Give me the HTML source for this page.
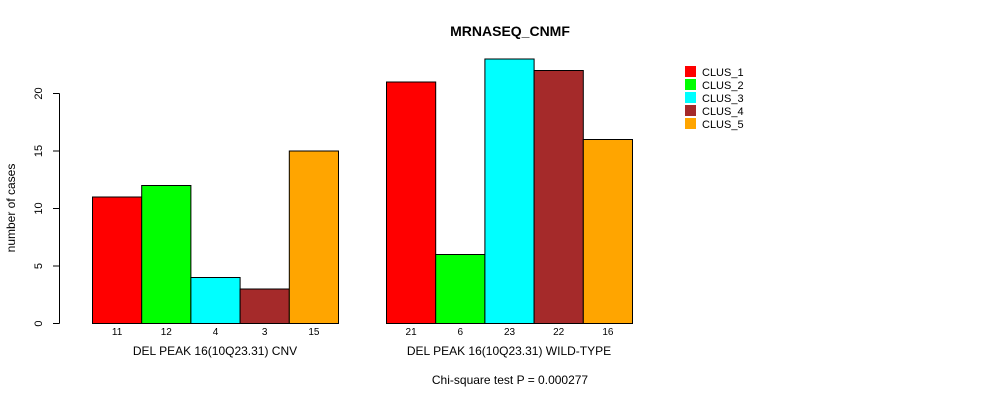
<!DOCTYPE html>
<html><head><meta charset="utf-8"><style>body{margin:0;background:#fff}svg{display:block;font-family:"Liberation Sans",sans-serif}</style></head>
<body>
<svg id="c" width="990" height="400">
<text x="510" y="36" text-anchor="middle" font-size="14" font-weight="bold">MRNASEQ_CNMF</text>
<text x="0" y="0" transform="translate(15,208) rotate(-90)" text-anchor="middle" font-size="12">number of cases</text>
<text x="510" y="384" text-anchor="middle" font-size="12">Chi-square test P = 0.000277</text>
<g id="axis"></g><g id="bars"></g><g id="legend"></g>
</svg>
<script>
const groups = ["DEL PEAK 16(10Q23.31) CNV", "DEL PEAK 16(10Q23.31) WILD-TYPE"];
const seriesNames = ["CLUS_1","CLUS_2","CLUS_3","CLUS_4","CLUS_5"];
const colors = ["#ff0000","#00ff00","#00ffff","#a52a2a","#ffa500"];
const cnvValues = [11,12,4,3,15];
const wildValues = [21,6,23,22,16];
const yTicks = [0,5,10,15,20];
const NS="http://www.w3.org/2000/svg";
function y(v){return 323.5 - v*11.5;}
function mk(t,a,p){const e=document.createElementNS(NS,t);for(const k in a)e.setAttribute(k,a[k]);p.appendChild(e);return e;}
const ax=document.getElementById('axis');
const axl=mk('line',{x1:59.5,x2:59.5,y1:y(0),y2:y(20),stroke:'#000'},ax);


yTicks.forEach(t=>{
  const l=mk('line',{x1:53,x2:59.5,y1:y(t),y2:y(t),stroke:'#000'},ax);
  
  
  const tx=mk('text',{transform:`translate(42,${y(t)}) rotate(-90)`,'text-anchor':'middle','font-size':11},ax);
  tx.textContent=t;
  
  
});
const bg=document.getElementById('bars');
const starts=[92,386], bw=49.2;
[cnvValues,wildValues].forEach((vals,g)=>{
  vals.forEach((v,i)=>{
    const x=starts[g]+i*bw;
    const r=mk('rect',{x:x+0.5,y:y(v),width:bw,height:y(0)-y(v),fill:colors[i],stroke:'#000'},bg);
    
    
    const t=mk('text',{x:x+bw/2+0.5,y:335,'text-anchor':'middle','font-size':10},bg);
    t.textContent=v;
    
    
  });
  const gl=mk('text',{x:starts[g]+bw*2.5,y:355,'text-anchor':'middle','font-size':12},bg);
  gl.textContent=groups[g];
  
  
});
const lg=document.getElementById('legend');
seriesNames.forEach((n,i)=>{
  const yy=66.5+i*13;
  const r=mk('rect',{x:685.5,y:yy,width:10,height:10,fill:colors[i],stroke:colors[i]},lg);
  
  
  const t=mk('text',{x:702,y:yy+9.5,'font-size':11},lg);
  t.textContent=n;
  
  
});
</script>
</body></html>
